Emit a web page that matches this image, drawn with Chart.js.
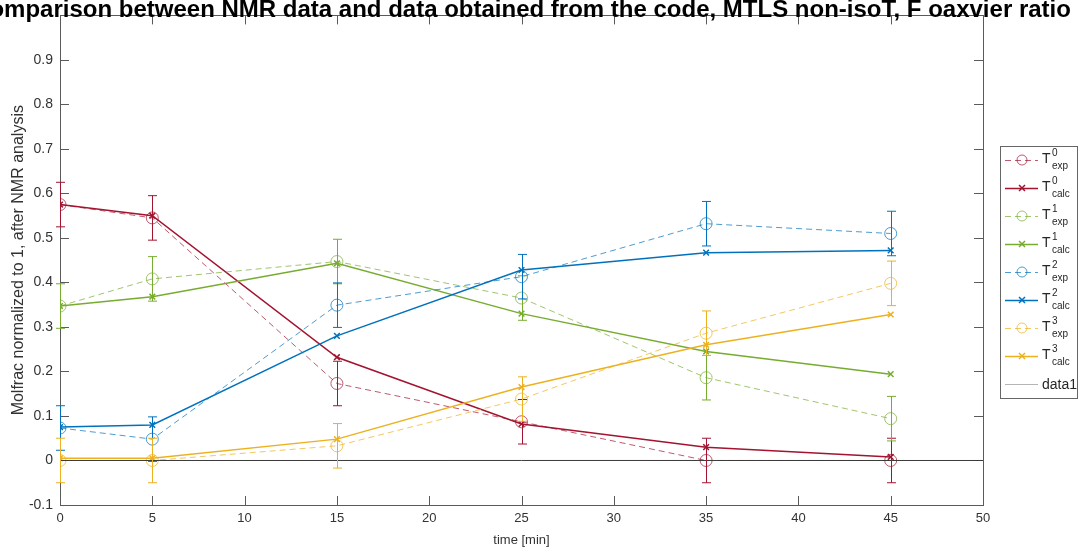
<!DOCTYPE html>
<html>
<head>
<meta charset="utf-8">
<script src="https://cdn.jsdelivr.net/npm/chart.js@4/dist/chart.umd.min.js"></script>
<style>
html, body { margin: 0; padding: 0; background: #fff; }
</style>
</head>
<body>
<canvas id="chart" width="1080" height="548"></canvas>
<script>
// Datos
const times = [0, 5, 15, 25, 35, 45];

const t0Exp  = [0.575, 0.545, 0.173, 0.087, 0.000, 0.000];
const t0Calc = [0.575, 0.550, 0.232, 0.082, 0.030, 0.008];
const t1Exp  = [0.347, 0.408, 0.447, 0.365, 0.186, 0.094];
const t1Calc = [0.347, 0.368, 0.443, 0.330, 0.245, 0.194];
const t2Exp  = [0.073, 0.048, 0.349, 0.413, 0.532, 0.510];
const t2Calc = [0.075, 0.080, 0.280, 0.428, 0.467, 0.472];
const t3Exp  = [0.000, 0.000, 0.033, 0.138, 0.286, 0.398];
const t3Calc = [0.005, 0.005, 0.048, 0.165, 0.260, 0.328];

// Barras de error (solo datos experimentales)
const errT0 = [0.05, 0.05, 0.05, 0.05, 0.05, 0.05];
const errT1 = [0.05, 0.05, 0.05, 0.05, 0.05, 0.05];
const errT2 = [0.05, 0.05, 0.05, 0.05, 0.05, 0.05];
const errT3 = [0.05, 0.05, 0.05, 0.05, 0.05, 0.05];

// Línea "data1" en cero
const data1X = [0, 50];
const data1Y = [0, 0];

const titleText = 'Comparison between NMR data and data obtained from the code, MTLS non-isoT, F oaxvier ratio';
const xTitle = 'time [min]';
const yTitle = 'Molfrac normalized to 1, after NMR analysis';
const legendSup = ['0', '0', '1', '1', '2', '2', '3', '3'];
const legendSub = ['exp', 'calc', 'exp', 'calc', 'exp', 'calc', 'exp', 'calc'];

const RED = '#A2142F', GREEN = '#77AC30', BLUE = '#0072BD', YELLOW = '#EDB120';

function toPoints(xs, ys) {
    return xs.map((x, i) => ({ x: x, y: ys[i] }));
}

function alpha(hex, a) {
    const n = parseInt(hex.slice(1), 16);
    return `rgba(${(n >> 16) & 255}, ${(n >> 8) & 255}, ${n & 255}, ${a})`;
}

function expSet(vals, err, color) {
    return {
        data: toPoints(times, vals), errorBars: err, kind: 'exp',
        borderColor: alpha(color, 0.7), backgroundColor: 'transparent', borderWidth: 1, borderDash: [6, 4],
        pointStyle: 'circle', pointRadius: 6, pointBorderWidth: 1, pointBorderColor: alpha(color, 0.7),
        errColor: color
    };
}

function calcSet(vals, color) {
    return {
        data: toPoints(times, vals), kind: 'calc',
        borderColor: color, backgroundColor: 'transparent', borderWidth: 1.5,
        pointStyle: 'crossRot', pointRadius: 4, pointBorderWidth: 1.5, pointBorderColor: color
    };
}

const datasets = [
    expSet(t0Exp, errT0, RED), calcSet(t0Calc, RED),
    expSet(t1Exp, errT1, GREEN), calcSet(t1Calc, GREEN),
    expSet(t2Exp, errT2, BLUE), calcSet(t2Calc, BLUE),
    expSet(t3Exp, errT3, YELLOW), calcSet(t3Calc, YELLOW),
    { data: toPoints(data1X, data1Y), kind: 'data1', borderColor: '#3a3a3a', borderWidth: 1, pointRadius: 0 }
];
// orden de dibujo como en MATLAB: el último encima
datasets.forEach((d, i) => { d.order = datasets.length - i; });

// Caja de ejes con marcas hacia dentro
const boxPlugin = {
    id: 'box',
    beforeDatasetsDraw(chart) {
        const { ctx, chartArea: a, scales } = chart;
        const tl = 9;
        ctx.save();
        ctx.strokeStyle = '#5a5a5a';
        ctx.lineWidth = 1;
        ctx.beginPath();
        scales.x.ticks.forEach(t => {
            const px = Math.round(scales.x.getPixelForValue(t.value)) + 0.5;
            ctx.moveTo(px, a.bottom); ctx.lineTo(px, a.bottom - tl);
            ctx.moveTo(px, a.top); ctx.lineTo(px, a.top + tl);
        });
        scales.y.ticks.forEach(t => {
            const py = Math.round(scales.y.getPixelForValue(t.value)) + 0.5;
            ctx.moveTo(a.left, py); ctx.lineTo(a.left + tl, py);
            ctx.moveTo(a.right, py); ctx.lineTo(a.right - tl, py);
        });
        ctx.stroke();
        ctx.strokeRect(Math.round(a.left) + 0.5, Math.round(a.top) + 0.5, Math.round(a.right - a.left), Math.round(a.bottom - a.top));
        ctx.restore();
    }
};

// Barras de error
const errorBarPlugin = {
    id: 'errorBars',
    afterDatasetsDraw(chart) {
        const { ctx, scales } = chart;
        ctx.save();
        chart.data.datasets.forEach(ds => {
            if (!ds.errorBars) return;
            ctx.strokeStyle = ds.errColor;
            ctx.lineWidth = 1;
            ds.data.forEach((p, i) => {
                const e = ds.errorBars[i];
                const x = Math.round(scales.x.getPixelForValue(p.x)) + 0.5;
                const y1 = scales.y.getPixelForValue(p.y - e);
                const y2 = scales.y.getPixelForValue(p.y + e);
                ctx.beginPath();
                ctx.moveTo(x, y1); ctx.lineTo(x, y2);
                ctx.moveTo(x - 4.5, y1); ctx.lineTo(x + 4.5, y1);
                ctx.moveTo(x - 4.5, y2); ctx.lineTo(x + 4.5, y2);
                ctx.stroke();
            });
        });
        ctx.restore();
    }
};

// Título (centrado sobre los ejes, recortado como en el original)
const titlePlugin = {
    id: 'topTitle',
    afterDraw(chart) {
        const { ctx, chartArea: a } = chart;
        ctx.save();
        ctx.font = 'bold 24px "Liberation Sans", Arial, sans-serif';
        ctx.fillStyle = '#000';
        ctx.textAlign = 'center';
        ctx.textBaseline = 'alphabetic';
        ctx.fillText(titleText, (a.left + a.right) / 2, 17);
        ctx.restore();
    }
};

// Leyenda con superíndices y subíndices
const legendPlugin = {
    id: 'matLegend',
    afterDraw(chart) {
        const { ctx } = chart;
        const bx = 1000, by = 146, bw = 77, bh = 252, step = 28;
        ctx.save();
        ctx.fillStyle = '#fff';
        ctx.fillRect(bx, by, bw, bh);
        ctx.strokeStyle = '#666';
        ctx.lineWidth = 1;
        ctx.strokeRect(bx + 0.5, by + 0.5, bw, bh);
        chart.data.datasets.forEach((ds, i) => {
            const cy = by + 14 + i * step;
            ctx.save();
            ctx.strokeStyle = ds.kind === 'data1' ? '#b5b5b5' : ds.borderColor;
            ctx.lineWidth = ds.borderWidth;
            ctx.setLineDash(ds.borderDash || []);
            ctx.beginPath();
            ctx.moveTo(bx + 5, cy + 0.5); ctx.lineTo(bx + 38, cy + 0.5);
            ctx.stroke();
            ctx.setLineDash([]);
            if (ds.kind === 'exp') {
                ctx.beginPath();
                ctx.arc(bx + 22, cy, 5, 0, Math.PI * 2);
                ctx.stroke();
            } else if (ds.kind === 'calc') {
                ctx.beginPath();
                ctx.moveTo(bx + 19, cy - 3); ctx.lineTo(bx + 25, cy + 3);
                ctx.moveTo(bx + 25, cy - 3); ctx.lineTo(bx + 19, cy + 3);
                ctx.stroke();
            }
            ctx.restore();
            ctx.fillStyle = '#262626';
            ctx.textBaseline = 'alphabetic';
            if (ds.kind === 'data1') {
                ctx.font = '14px "Liberation Sans", Arial, sans-serif';
                ctx.fillText('data1', bx + 42, cy + 5);
            } else {
                ctx.font = '14px "Liberation Sans", Arial, sans-serif';
                ctx.fillText('T', bx + 42, cy + 3);
                ctx.font = '10px "Liberation Sans", Arial, sans-serif';
                ctx.fillText(legendSup[i], bx + 52, cy - 4);
                ctx.fillText(legendSub[i], bx + 52, cy + 9);
            }
        });
        ctx.restore();
    }
};

const ctx = document.getElementById('chart').getContext('2d');
new Chart(ctx, {
    type: 'line',
    data: { datasets: datasets },
    options: {
        responsive: false,
        animation: false,
        devicePixelRatio: 1,
        layout: { padding: { top: 12, right: 97, left: 0, bottom: 0 } },
        plugins: { legend: { display: false }, tooltip: { enabled: false } },
        elements: { line: { tension: 0 } },
        scales: {
            x: {
                type: 'linear', min: 0, max: 50,
                ticks: { stepSize: 5, color: '#333', font: { family: '"Liberation Sans", Arial', size: 13 }, padding: 6, maxRotation: 0 },
                grid: { display: false, drawTicks: false },
                border: { display: false },
                title: { display: true, text: xTitle, color: '#333', font: { family: '"Liberation Sans", Arial', size: 13 }, padding: { top: 2, bottom: 0 } },
                afterFit(s) { s.height = 43; }
            },
            y: {
                type: 'linear', min: -0.1, max: 1.0,
                ticks: {
                    stepSize: 0.1, color: '#333', font: { family: '"Liberation Sans", Arial', size: 14 }, padding: 7,
                    callback: v => (v > 0.95 ? '' : String(Math.round(v * 10) / 10))
                },
                grid: { display: false, drawTicks: false },
                border: { display: false },
                title: { display: true, text: yTitle, color: '#333', font: { family: '"Liberation Sans", Arial', size: 16 }, padding: { top: 9, bottom: 0 } },
                afterFit(s) { s.width = 60; }
            }
        }
    },
    plugins: [boxPlugin, errorBarPlugin, titlePlugin, legendPlugin]
});
</script>
</body>
</html>
